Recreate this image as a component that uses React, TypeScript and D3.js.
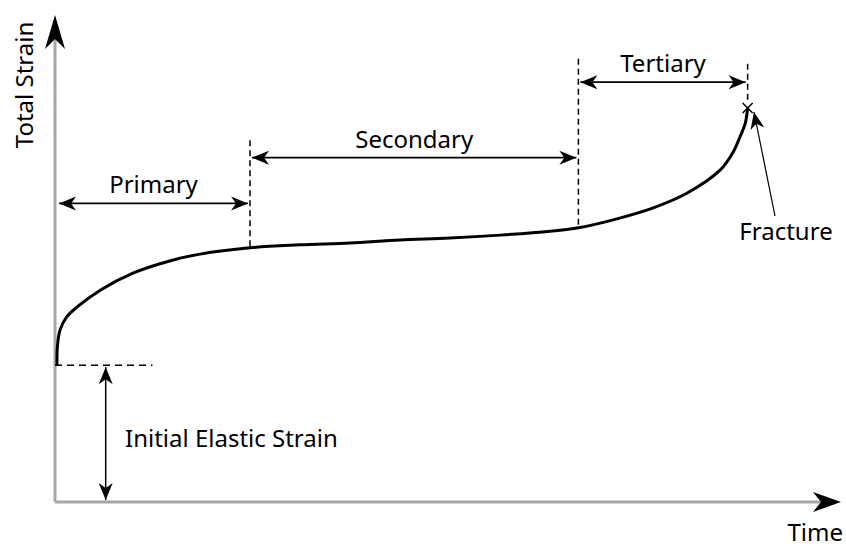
import React from 'react';
import * as d3 from 'd3';

// creep curve (time, strain in arbitrary units 0..100)
const curveTime = [0.26, 0.3, 0.64, 1.5, 2.8, 5.8, 10.0, 14.7, 18.6, 25.0, 31.4, 37.8, 44.2, 50.6, 57.1, 63.5, 67.1, 72.4, 76.7, 81.0, 85.3, 86.9, 87.8, 88.5, 88.8];
const curveStrain = [28.1, 31.8, 35.3, 38.0, 40.0, 43.5, 47.0, 49.5, 50.9, 52.2, 52.8, 53.2, 53.8, 54.2, 54.8, 55.6, 56.3, 58.3, 60.4, 63.4, 68.2, 71.7, 74.9, 77.8, 80.9];

// stage boundaries (time)
const stageNames = ['Primary', 'Secondary', 'Tertiary'];
const stageStart = [0.26, 25.0, 67.1];
const stageEnd = [25.0, 67.1, 88.8];
const stageArrowStrain = [61.3, 70.7, 86.2];
const dashTopStrain = [74.3, 91.0, 90.0];

const initialStrain = 28.1;
const fracture = { time: 88.8, strain: 80.9 };

const App = () => {
  const width = 846;
  const height = 548;
  const x = d3.scaleLinear().domain([0, 100]).range([55, 835]);
  const y = d3.scaleLinear().domain([0, 100]).range([502, 15]);

  const pts = curveTime.map((t, i) => [t, curveStrain[i]] as [number, number]);
  const line = d3.line<[number, number]>()
    .x(d => x(d[0]))
    .y(d => y(d[1]))
    .curve(d3.curveCatmullRom.alpha(0.5));

  const font = '"Noto Sans", sans-serif';
  const fs = 24;

  return (
    <svg width={width} height={height} style={{ position: 'absolute', left: 0, top: 0, background: '#fff' }}>
      <defs>
        <marker id="arr" viewBox="-18 -8 20 16" markerWidth={20} markerHeight={16} refX={0} refY={0}
          orient="auto-start-reverse" markerUnits="userSpaceOnUse">
          <path d="M0,0 L-17,-7 L-12,0 L-17,7 Z" fill="#000" />
        </marker>
        <marker id="axarr" viewBox="-36 -12 38 24" markerWidth={38} markerHeight={24} refX={0} refY={0}
          orient="auto" markerUnits="userSpaceOnUse">
          <path d="M0,0 L-34,-10 L-24,0 L-34,10 Z" fill="#000" />
        </marker>
        <marker id="xarr" viewBox="-30 -12 32 24" markerWidth={32} markerHeight={24} refX={0} refY={0}
          orient="auto" markerUnits="userSpaceOnUse">
          <path d="M0,0 L-28,-10 L-20,0 L-28,10 Z" fill="#000" />
        </marker>
      </defs>

      {/* axes */}
      <line x1={x(0)} y1={y(0)} x2={x(0)} y2={y(100) + 8} stroke="#a6a6a6" strokeWidth={3} />
      <line x1={x(0)} y1={y(0)} x2={x(100) - 8} y2={y(0)} stroke="#a6a6a6" strokeWidth={3} />
      <path d={`M${x(0)},${y(100) + 30} L${x(0)},${y(100)}`} stroke="#000" strokeWidth={0.01} markerEnd="url(#axarr)" />
      <path d={`M${x(100) - 30},${y(0)} L${x(100) + 6},${y(0)}`} stroke="#000" strokeWidth={0.01} markerEnd="url(#xarr)" />

      <text x={0} y={0} transform={`translate(${33},${85}) rotate(-90)`} textAnchor="middle"
        fontFamily={font} fontSize={fs} fill="#000">Total Strain</text>
      <text x={843} y={541} textAnchor="end" fontFamily={font} fontSize={fs} fill="#000">Time</text>

      {/* creep curve */}
      <path d={line(pts) || ''} fill="none" stroke="#000" strokeWidth={3} />

      {/* initial elastic strain */}
      <line x1={x(0)} y1={y(initialStrain)} x2={x(12.5)} y2={y(initialStrain)} stroke="#000" strokeWidth={1.5} strokeDasharray="7,5" />
      <line x1={x(6.5)} y1={y(initialStrain) + 2} x2={x(6.5)} y2={y(0) - 2} stroke="#000" strokeWidth={1.5}
        markerStart="url(#arr)" markerEnd="url(#arr)" />
      <text x={125} y={447} fontFamily={font} fontSize={fs} fill="#000">Initial Elastic Strain</text>

      {/* stage boundaries and spans */}
      {stageNames.map((name, i) => {
        const xe = x(stageEnd[i]);
        const ya = y(stageArrowStrain[i]);
        const idx = curveTime.indexOf(stageEnd[i]);
        const yBottom = y(curveStrain[idx]);
        return (
          <g key={name}>
            <line x1={xe} y1={y(dashTopStrain[i])} x2={xe} y2={i === 2 ? yBottom - 8 : yBottom}
              stroke="#000" strokeWidth={1.5} strokeDasharray="6,4" />
            <line x1={x(stageStart[i]) + 2} y1={ya} x2={xe - 2} y2={ya} stroke="#000" strokeWidth={1.8}
              markerStart="url(#arr)" markerEnd="url(#arr)" />
            <text x={(x(stageStart[i]) + xe) / 2} y={ya - 10} textAnchor="middle"
              fontFamily={font} fontSize={fs} fill="#000">{name}</text>
          </g>
        );
      })}

      {/* fracture */}
      <g stroke="#000" strokeWidth={1.5}>
        <line x1={x(fracture.time) - 5} y1={y(fracture.strain) - 5} x2={x(fracture.time) + 5} y2={y(fracture.strain) + 5} />
        <line x1={x(fracture.time) - 5} y1={y(fracture.strain) + 5} x2={x(fracture.time) + 5} y2={y(fracture.strain) - 5} />
      </g>
      <line x1={775} y1={216} x2={754} y2={112} stroke="#000" strokeWidth={1.2} markerEnd="url(#arr)" />
      <text x={786} y={240} textAnchor="middle" fontFamily={font} fontSize={fs} fill="#000">Fracture</text>
    </svg>
  );
};

export default App;
